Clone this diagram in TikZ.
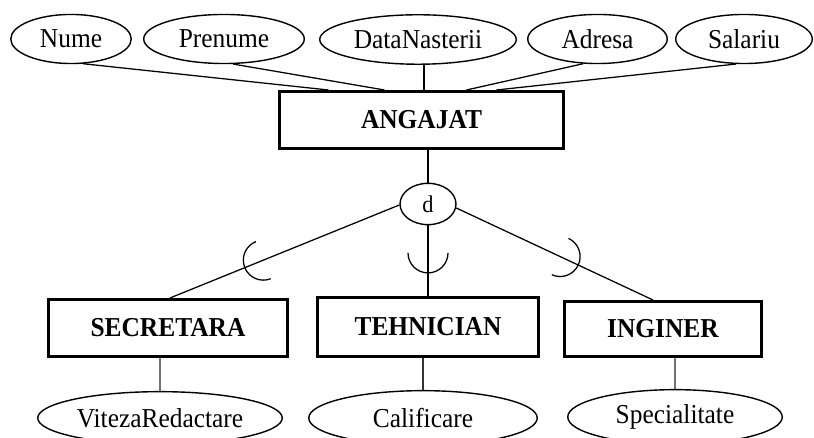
\documentclass[tikz,border=0pt]{standalone}
\usepackage{fontspec}
\setmainfont{Liberation Serif}[FakeStretch=0.93]
\usetikzlibrary{shapes.geometric,calc}

\begin{document}
\begin{tikzpicture}[x=0.75pt,y=0.75pt,
  attr/.style={ellipse,draw,line width=1.05pt,inner sep=0pt,minimum height=36.8pt,
               font=\fontsize{20.5}{23}\selectfont},
  entity/.style={rectangle,draw,line width=2.25pt,inner sep=0pt,
               font=\fontsize{20.5}{23}\selectfont\bfseries},
  link/.style={line width=0.95pt},
  sublink/.style={line width=0.95pt,black!55},
  subset/.style={line width=0.95pt}]
\useasboundingbox (0,0) rectangle (814,438);

% superclass and its attributes
\node[entity,minimum width=213pt,minimum height=42.75pt] (angajat) at (421.5,318) {ANGAJAT};
\node[attr,minimum width=90.4pt]  (nume)    at (71,399)    {Nume};
\node[attr,minimum width=120.4pt] (prenume) at (224,399)   {Prenume};
\node[attr,minimum width=147.4pt,minimum height=37.1pt] (datan) at (418,398.5) {DataNasterii};
\node[attr,minimum width=104.6pt] (adresa)  at (597.5,399) {Adresa};
\node[attr,minimum width=102.4pt] (salariu) at (744,399)   {Salariu};

\coordinate (t1) at ($(angajat.north)+(-93,0)$);
\coordinate (t2) at ($(angajat.north)+(-37,0)$);
\coordinate (t3) at ($(angajat.north)+(2.5,0)$);
\coordinate (t4) at ($(angajat.north)+(45,0)$);
\coordinate (t5) at ($(angajat.north)+(75,0)$);
\draw[link] (nume.-64)    -- (t1);
\draw[link] (prenume.-70) -- (t2);
\draw[link] (datan.south -| t3) -- (t3);
\draw[link] (adresa.-120) -- (t4);
\draw[link] (salariu.-108) -- (t5);

% disjoint specialisation circle
\node[ellipse,draw,line width=1.05pt,inner sep=0pt,minimum width=42pt,minimum height=31pt,
      font=\fontsize{18}{20}\selectfont] (d) at (428,234) {d};
\draw[link] (angajat.south -| d.north) -- (d.north);

% subclasses
\node[entity,minimum width=179.25pt,minimum height=42.75pt] (sec) at (168,110) {SECRETARA};
\node[entity,minimum width=165.75pt,minimum height=44.25pt] (teh) at (428,111) {TEHNICIAN};
\node[entity,minimum width=147.75pt,minimum height=41.25pt] (ing) at (663,109) {INGINER};

\coordinate (s1) at ($(sec.north)+(2,0)$);
\coordinate (s3) at ($(ing.north)+(-10,0)$);
\draw[link] (d.182) -- (s1);
\draw[link] (d.south) -- (teh.north);
\draw[link] (d.-8) -- (s3);

% subset marks on the specialisation lines
\coordinate (c1) at ($(d.182)!0.593!(s1)$);
\coordinate (c2) at ($(d.south)!0.39!(teh.north)$);
\coordinate (c3) at ($(d.-8)!0.528!(s3)$);
\draw[subset] ([shift={(111.7:15pt)}]c1) arc[start angle=111.7,end angle=291.7,radius=15pt];
\draw[subset] ([shift={(180:15pt)}]c2) arc[start angle=180,end angle=360,radius=15pt];
\draw[subset] ([shift={(-114.7:15pt)}]c3) arc[start angle=-114.7,end angle=65.3,radius=15pt];

% subclass attributes
\node[attr,minimum width=183.4pt,minimum height=39.5pt] (viteza) at (160,20)  {VitezaRedactare};
\node[attr,minimum width=171.4pt,minimum height=41pt]   (calif)  at (423,20)  {Calificare};
\node[attr,minimum width=160.9pt,minimum height=41pt]   (spec)   at (675,21)  {Specialitate};

\draw[sublink] (sec.south -| viteza.north) -- (viteza.north);
\draw[link,black!80] (teh.south -| calif.north) -- (calif.north);
\draw[sublink] (ing.south -| spec.north) -- (spec.north);
\end{tikzpicture}
\end{document}
